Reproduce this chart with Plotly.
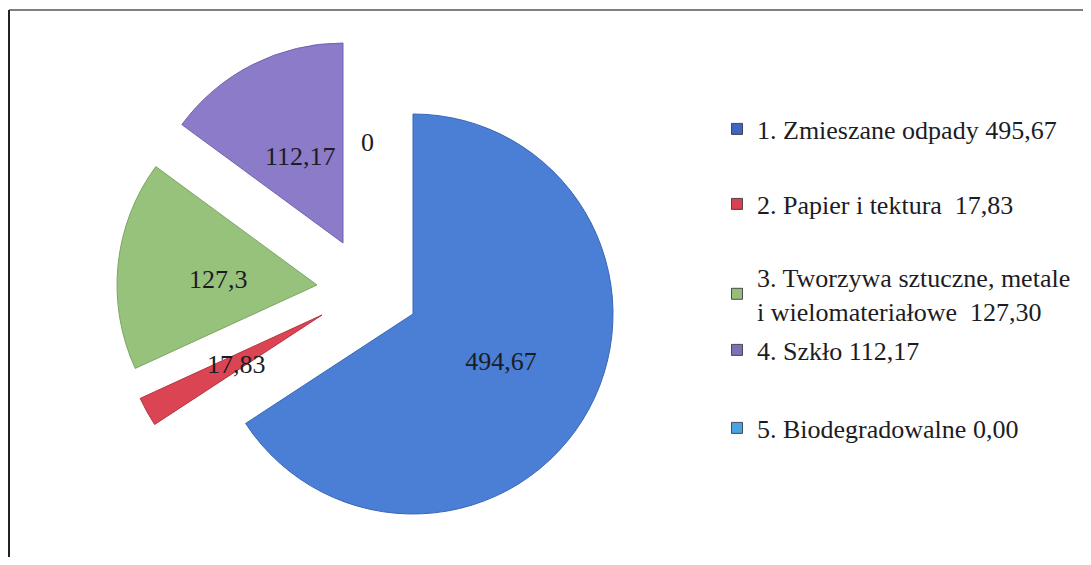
import plotly.graph_objects as go

# ---- data ----
categories = ["1. Zmieszane odpady", "2. Papier i tektura", "3. Tworzywa sztuczne, metale i wielomateriałowe",
              "4. Szkło", "5. Biodegradowalne"]
values = [494.67, 17.83, 127.3, 112.17, 0.0]
legend_labels = ["1. Zmieszane odpady 495,67",
                 "2. Papier i tektura  17,83",
                 "3. Tworzywa sztuczne, metale<br>i wielomateriałowe  127,30",
                 "4. Szkło 112,17",
                 "5. Biodegradowalne 0,00"]

# ---- style ----
OFF = 8                      # page body margin
W, H = 1091 - OFF, 565 - 2 * OFF
slice_colors = ["#4A7FD5", "#DB4452", "#97C27B", "#8B7BC8", "#4BA3DE"]
edge_colors = ["#3A66B4", "#B83040", "#7FA565", "#7262AE", "#3A88C0"]
legend_colors = ["#3F66BC", "#D94050", "#96BE78", "#7E70B4", "#4AA3DF"]
FONT = "Liberation Serif, Times New Roman, serif"
TXT = "#1c1c24"
R = 200
# slice centres (screen px) – exploded layout
centres = [(413, 314), (322, 315), (317, 285), (343, 243), (413, 314)]
label_pos = [None, (236, 365), (218, 279), (300, 157), (367, 142)]
legend_y = [129, 204, 294, 350, 428]
legend_x = 717


def px_x(x):
    return (x - OFF) / W


def px_y(y):
    return 1 - (y - OFF) / H


def dom(cx, cy, r=R):
    return dict(x=[px_x(cx - r), px_x(cx + r)], y=[px_y(cy + r), px_y(cy - r)])


def fmt(v):
    return f"{v:g}".replace(".", ",")


fig = go.Figure()

# one pie trace per visible slice, all sharing the same values so the angles come from the data
for i in range(4):
    cols = ["rgba(0,0,0,0)"] * len(values)
    lcols = ["rgba(0,0,0,0)"] * len(values)
    lw = [0] * len(values)
    cols[i] = slice_colors[i]
    lcols[i] = edge_colors[i]
    lw[i] = 1
    tpos = ["none"] * len(values)
    if i == 0:
        tpos[0] = "inside"
    fig.add_trace(go.Pie(
        labels=categories, values=values, sort=False, direction="clockwise", rotation=0,
        marker=dict(colors=cols, line=dict(color=lcols, width=lw)),
        textinfo="value", textposition=tpos,
        insidetextfont=dict(family=FONT, size=26, color=TXT),
        insidetextorientation="horizontal",
        domain=dom(*centres[i]), showlegend=False, hoverinfo="label+value",
    ))

# legend entries
for i, lab in enumerate(legend_labels):
    key = "legend" if i == 0 else f"legend{i + 1}"
    fig.add_trace(go.Scatter(
        x=[None], y=[None], mode="markers", name=lab,
        marker=dict(symbol="square", size=11, color=legend_colors[i],
                    line=dict(color="#2a2a3a", width=0.8)),
        showlegend=True, legend=key,
    ))

layout_legends = {}
for i in range(5):
    key = "legend" if i == 0 else f"legend{i + 1}"
    layout_legends[key] = dict(
        x=px_x(legend_x), xanchor="left", y=px_y(legend_y[i]), yanchor="middle",
        bgcolor="rgba(0,0,0,0)", borderwidth=0,
        font=dict(family=FONT, size=26, color=TXT), valign="middle",
    )

annotations = []
for i in range(1, 5):
    lx, ly = label_pos[i]
    annotations.append(dict(
        x=px_x(lx), y=px_y(ly), xref="paper", yref="paper", showarrow=False,
        text=fmt(values[i]), font=dict(family=FONT, size=26, color=TXT),
        xanchor="center", yanchor="middle",
    ))

shapes = [
    dict(type="line", xref="paper", yref="paper", x0=px_x(9), x1=1, y0=px_y(10), y1=px_y(10),
         line=dict(color="#555555", width=1.5)),
    dict(type="line", xref="paper", yref="paper", x0=px_x(9), x1=px_x(9), y0=px_y(10), y1=0,
         line=dict(color="#222222", width=2)),
]

fig.update_layout(
    width=W, height=H, margin=dict(l=0, r=0, t=0, b=0),
    paper_bgcolor="white", plot_bgcolor="white",
    separators=", ",
    xaxis=dict(visible=False), yaxis=dict(visible=False),
    annotations=annotations, shapes=shapes,
    **layout_legends,
)

fig.write_html("out.html")
